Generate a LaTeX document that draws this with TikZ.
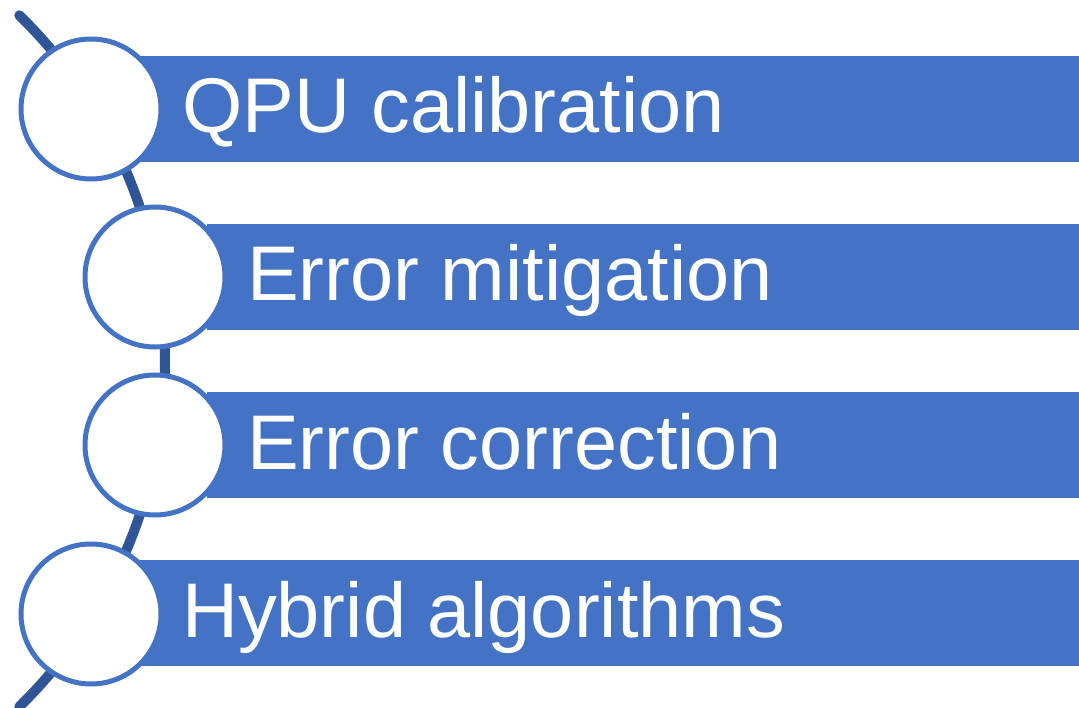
\documentclass[tikz,border=0pt]{standalone}
\usepackage{fontspec}
\setmainfont{Liberation Sans}
\usetikzlibrary{calc}
\definecolor{barblue}{HTML}{4472C4}
\definecolor{arcblue}{HTML}{2F5597}
\begin{document}
\begin{tikzpicture}[x=1pt,y=-1pt,
  bar/.style={fill=barblue,draw=none},
  bullet/.style={circle,draw=barblue,line width=5pt,fill=white,minimum size=140pt,inner sep=0pt},
  label/.style={anchor=base west,text=white,inner sep=0pt,font=\fontsize{77.5}{90}\selectfont},
  spine/.style={draw=arcblue,line width=10pt,line cap=round}]
\useasboundingbox (0,0) rectangle (1079,708);
% spine arc through the bullet centres
\coordinate (arccentre) at (-318,361);
\draw[spine] ($(arccentre)+(-45.7:483)$) arc[start angle=-45.7,end angle=45.7,radius=483];
% bars
\fill[bar] (140,56) rectangle (1079,162);
\fill[bar] (207,224) rectangle (1079,330);
\fill[bar] (207,392) rectangle (1079,498);
\fill[bar] (140,560) rectangle (1079,666);
% bullets
\node[bullet] (c1) at (91,109) {};
\node[bullet] (c2) at (155,277) {};
\node[bullet] (c3) at (155,445) {};
\node[bullet] (c4) at (91,614) {};
% labels
\node[label] (t1) at (182,133) {QPU calibration};
\node[label] (t2) at (247,301) {Error mitigation};
\node[label] (t3) at (247,469) {Error correction};
\node[label] (t4) at (182,637) {Hybrid algorithms};
\end{tikzpicture}
\end{document}
